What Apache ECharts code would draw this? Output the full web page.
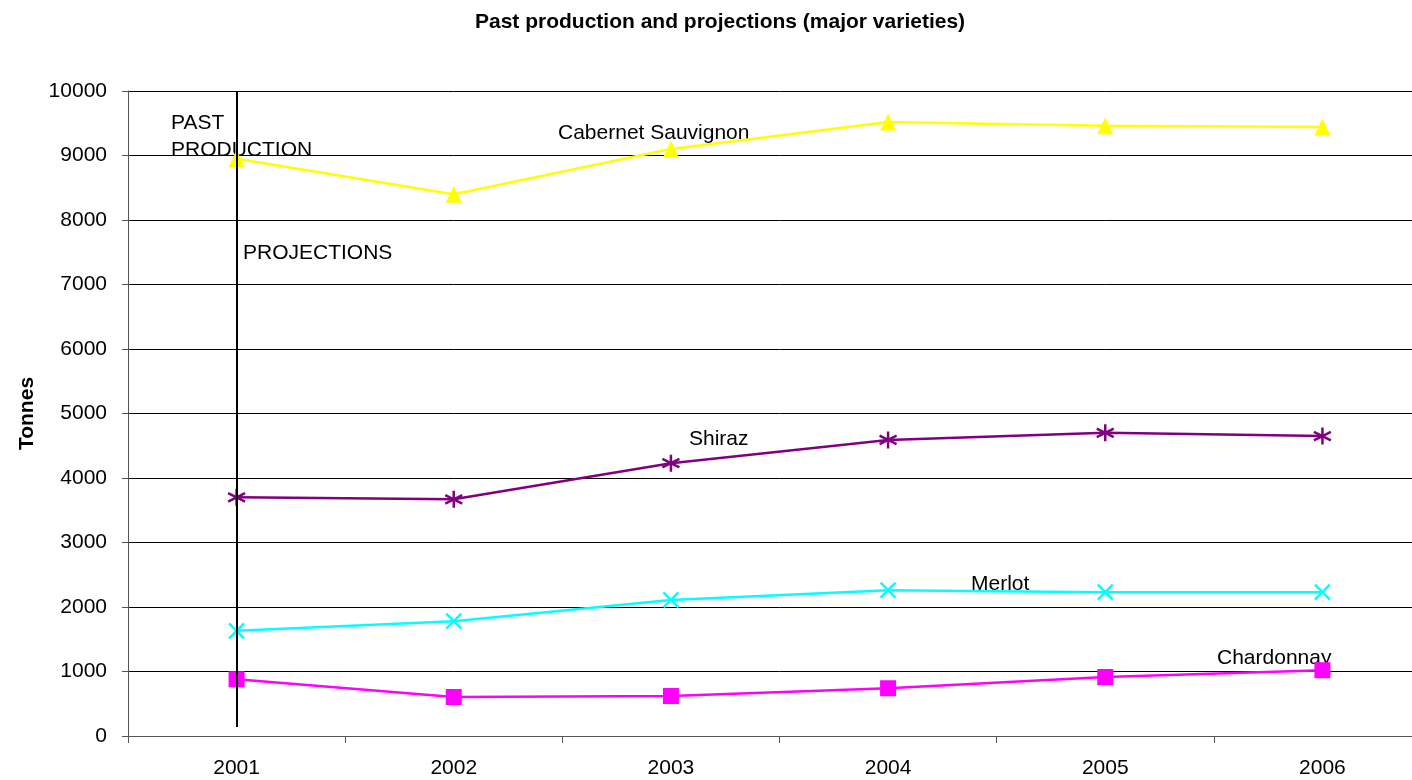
<!DOCTYPE html>
<html><head><meta charset="utf-8">
<script src="https://cdn.jsdelivr.net/npm/echarts@6/dist/echarts.min.js"></script>
<style>html,body{margin:0;padding:0;background:#fff;overflow:hidden}#c{width:1431px;height:780px}</style>
</head><body><div id="c"></div>
<script>
const years = ['2001','2002','2003','2004','2005','2006'];
const cabernet = [8950, 8400, 9100, 9520, 9460, 9440];
const shiraz = [3700, 3670, 4230, 4590, 4700, 4650];
const merlot = [1630, 1780, 2110, 2260, 2230, 2230];
const chardonnay = [880, 605, 620, 740, 915, 1020];
const yTicks = [0, 1000, 10000];
const dividerYear = '2001';
const dividerRange = [140, 10000];

const chart = echarts.init(document.getElementById('c'), null, {renderer:'canvas'});
const F = 'Liberation Sans, Arial, sans-serif';
const txt = (x, y, t) => ({type:'text', left:x, top:y, style:{text:t, font:'21px ' + F, fill:'#000', lineHeight:27}});
chart.setOption({
  animation:false,
  title:{text:'Past production and projections (major varieties)', left:470, top:7,
    textStyle:{fontFamily:F, fontSize:21, fontWeight:'bold', color:'#000'}},
  grid:{left:128, top:91, right:0, bottom:44},
  xAxis:{type:'category', data:years, boundaryGap:true,
    axisLine:{lineStyle:{color:'#555', width:1}},
    axisTick:{show:true, length:7, lineStyle:{color:'#555'}},
    axisLabel:{color:'#000', fontSize:21, fontFamily:F, margin:22}},
  yAxis:{type:'value', min:yTicks[0], max:yTicks[2], interval:yTicks[1],
    name:'Tonnes', nameLocation:'middle', nameGap:90, nameRotate:90,
    nameTextStyle:{fontFamily:F, fontSize:21, fontWeight:'bold', color:'#000'},
    axisLine:{show:true, lineStyle:{color:'#555'}},
    axisTick:{show:true, length:6, lineStyle:{color:'#555'}},
    axisLabel:{color:'#000', fontSize:21, fontFamily:F, margin:21, formatter:v => String(v)},
    splitLine:{lineStyle:{color:'#000', width:1}}},
  series:[
    {name:'Cabernet Sauvignon', type:'line', data:cabernet, symbol:'triangle', symbolSize:[16,17],
      lineStyle:{color:'#ffff00', width:2.5}, itemStyle:{color:'#ffff00'},
      markLine:{silent:true, symbol:'none', label:{show:false},
        lineStyle:{color:'#000', width:2, type:'solid'},
        data:[[{coord:[dividerYear, dividerRange[0]]},{coord:[dividerYear, dividerRange[1]]}]]}},
    {name:'Shiraz', type:'line', data:shiraz, symbol:'path://M5,0L5,10M0.7,2.5L9.3,7.5M0.7,7.5L9.3,2.5', symbolSize:17,
      lineStyle:{color:'#800080', width:2.5}, itemStyle:{color:'#800080', borderColor:'#800080', borderWidth:2.5}},
    {name:'Merlot', type:'line', data:merlot, symbol:'path://M0,0L10,10M10,0L0,10', symbolSize:15,
      lineStyle:{color:'#00ffff', width:2.5}, itemStyle:{color:'#00ffff', borderColor:'#00ffff', borderWidth:2.5}},
    {name:'Chardonnay', type:'line', data:chardonnay, symbol:'rect', symbolSize:16,
      lineStyle:{color:'#ff00ff', width:2.5}, itemStyle:{color:'#ff00ff'}}
  ],
  graphic:[
    txt(171, 110, 'PAST\nPRODUCTION'),
    txt(243, 240, 'PROJECTIONS'),
    txt(558, 120, 'Cabernet Sauvignon'),
    txt(689, 426, 'Shiraz'),
    txt(971, 571, 'Merlot'),
    txt(1217, 645, 'Chardonnay')
  ]
});
</script></body></html>
